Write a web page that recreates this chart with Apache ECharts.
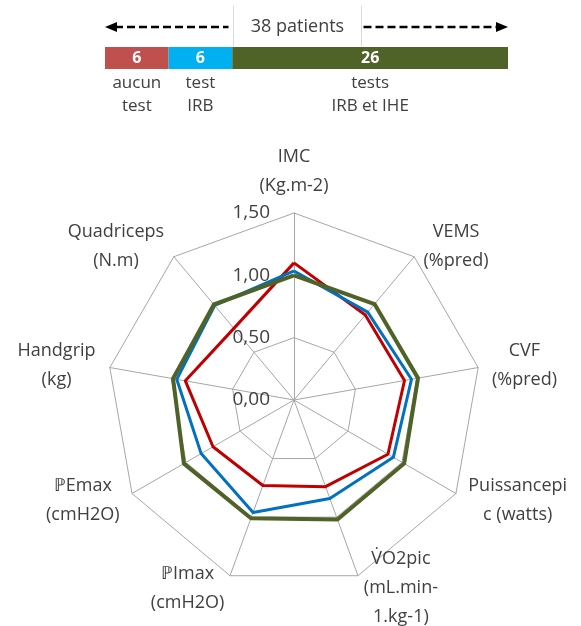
<!DOCTYPE html>
<html>
<head>
<meta charset="utf-8">
<script src="https://cdn.jsdelivr.net/npm/echarts@6/dist/echarts.min.js"></script>
<style>
html,body{margin:0;padding:0;background:#fff}
#main{width:581px;height:626px}
</style>
</head>
<body>
<div id="main"></div>
<script>
// top bar: patient groups
var groupNames = ['aucun\ntest', 'test\nIRB', 'tests\nIRB et IHE'];
var groupCounts = [6, 6, 26];
var totalPatients = 38;
var totalLabel = '38 patients';
var groupColors = ['#C0504D', '#00B0F0', '#4F6228'];

// radar, listed clockwise from the top
var indicatorNames = ['IMC\n(Kg.m-2)', 'VEMS\n(%pred)', 'CVF\n(%pred)', 'Puissancepi\nc (watts)',
    'V\u0307O2pic\n(mL.min-\n1.kg-1)', '\u2119Imax\n(cmH2O)', '\u2119Emax\n(cmH2O)', 'Handgrip\n(kg)', 'Quadriceps\n(N.m)'];
var radarMax = 1.5;
var seriesNames = ['aucun test', 'test IRB', 'tests IRB et IHE'];
var aucunTest = [1.10, 0.89, 0.90, 0.87, 0.74, 0.73, 0.75, 0.885, 0.75];
var testIRB = [1.035, 0.92, 0.957, 0.92, 0.84, 0.96, 0.86, 0.955, 0.99];
var testsIRBetIHE = [1.00, 1.005, 1.01, 1.02, 1.02, 1.01, 1.02, 0.985, 1.00];
var lineColors = ['#C00000', '#0070C0', '#4F6228'];

var textColor = '#404040';
var fontFamily = 'Open Sans';
var nameSize = 18;

// echarts lays radar indicators out counter-clockwise
function ccw(arr) {
    return [arr[0]].concat(arr.slice(1).reverse());
}

// one rich style per name so every line is centred in its own block
var measureCtx = document.createElement('canvas').getContext('2d');
measureCtx.font = nameSize + 'px ' + fontFamily;
var nameRich = {};
var nameKeys = {};
indicatorNames.forEach(function (n, i) {
    var w = 0;
    n.split('\n').forEach(function (line) {
        w = Math.max(w, measureCtx.measureText(line).width);
    });
    nameRich['n' + i] = {width: Math.ceil(w) + 2, align: 'center', fontSize: nameSize, lineHeight: 29,
        color: textColor, fontFamily: fontFamily};
    nameKeys[n] = 'n' + i;
});

var chart = echarts.init(document.getElementById('main'));

var barSeries = [];
groupCounts.forEach(function (c, i) {
    barSeries.push({
        type: 'bar', stack: 'count', barWidth: 22, barGap: '-100%',
        itemStyle: {color: groupColors[i]},
        label: {show: true, position: 'inside', color: '#fff', fontWeight: 'bold', fontSize: 16,
            fontFamily: fontFamily},
        data: [c]
    });
});
groupCounts.forEach(function (c, i) {
    barSeries.push({
        type: 'bar', stack: 'names', barWidth: 22, barGap: '-100%',
        itemStyle: {color: 'rgba(0,0,0,0)'},
        label: {show: true, position: 'bottom', distance: 3, color: textColor, fontSize: 17,
            lineHeight: 23, fontFamily: fontFamily,
            formatter: function () { return groupNames[i]; }},
        data: [c]
    });
});

var radarIndicators = ccw(indicatorNames).map(function (n, i) {
    var ind = {name: n, min: 0, max: radarMax};
    if (i === 0) {
        ind.axisLabel = {show: true};
    }
    return ind;
});

var radarData = [aucunTest, testIRB, testsIRBetIHE].map(function (vals, i) {
    return {
        name: seriesNames[i],
        value: ccw(vals),
        lineStyle: {color: lineColors[i], width: i === 2 ? 4 : 3},
        itemStyle: {color: lineColors[i]}
    };
});

chart.setOption({
    animation: false,
    grid: {left: 105, top: 47, width: 403, height: 22},
    xAxis: {type: 'value', min: 0, max: totalPatients, show: false},
    yAxis: {type: 'category', data: ['patients'], show: false},
    radar: {
        center: [294, 400],
        radius: 187,
        startAngle: 90,
        splitNumber: 3,
        shape: 'polygon',
        nameGap: 13,
        indicator: radarIndicators,
        axisName: {
            color: textColor, fontSize: nameSize, fontFamily: fontFamily,
            formatter: function (name) {
                var key = nameKeys[name];
                return name.split('\n').map(function (l) { return '{' + key + '|' + l + '}'; }).join('\n');
            },
            rich: nameRich
        },
        axisLabel: {
            color: textColor, fontSize: 19, fontFamily: fontFamily, margin: 24,
            formatter: function (v) { return v.toFixed(2).replace('.', ','); }
        },
        axisTick: {show: false},
        axisLine: {lineStyle: {color: '#A6A6A6', width: 1}},
        splitLine: {lineStyle: {color: '#A6A6A6', width: 1}},
        splitArea: {show: false}
    },
    series: barSeries.concat([{
        type: 'radar',
        symbol: 'none',
        data: radarData
    }])
});

// dashed arrow with the total above the bar
var p0 = chart.convertToPixel({gridIndex: 0}, [0, 0]);
var p1 = chart.convertToPixel({gridIndex: 0}, [totalPatients, 0]);
var ay = 27;
var mid = (p0[0] + p1[0]) / 2 - 9;
var boxHalf = 64;
chart.setOption({
    graphic: [
        {type: 'line', shape: {x1: mid - boxHalf, y1: 6, x2: mid - boxHalf, y2: 46},
            style: {stroke: '#D9D9D9', lineWidth: 1}},
        {type: 'line', shape: {x1: mid + boxHalf, y1: 6, x2: mid + boxHalf, y2: 46},
            style: {stroke: '#D9D9D9', lineWidth: 1}},
        {type: 'line', shape: {x1: p0[0] + 10, y1: ay, x2: mid - boxHalf - 5, y2: ay},
            style: {stroke: '#000', lineWidth: 2.5, lineDash: [8, 4]}},
        {type: 'line', shape: {x1: mid + boxHalf + 2, y1: ay, x2: p1[0] - 10, y2: ay},
            style: {stroke: '#000', lineWidth: 2.5, lineDash: [8, 4]}},
        {type: 'polygon', shape: {points: [[p0[0], ay], [p0[0] + 12, ay - 5], [p0[0] + 12, ay + 5]]},
            style: {fill: '#000'}},
        {type: 'polygon', shape: {points: [[p1[0], ay], [p1[0] - 12, ay - 5], [p1[0] - 12, ay + 5]]},
            style: {fill: '#000'}},
        {type: 'text', x: mid, y: ay, style: {text: totalLabel, fill: textColor, fontSize: 18,
            fontFamily: fontFamily, align: 'center', verticalAlign: 'middle'}}
    ]
});
</script>
</body>
</html>
